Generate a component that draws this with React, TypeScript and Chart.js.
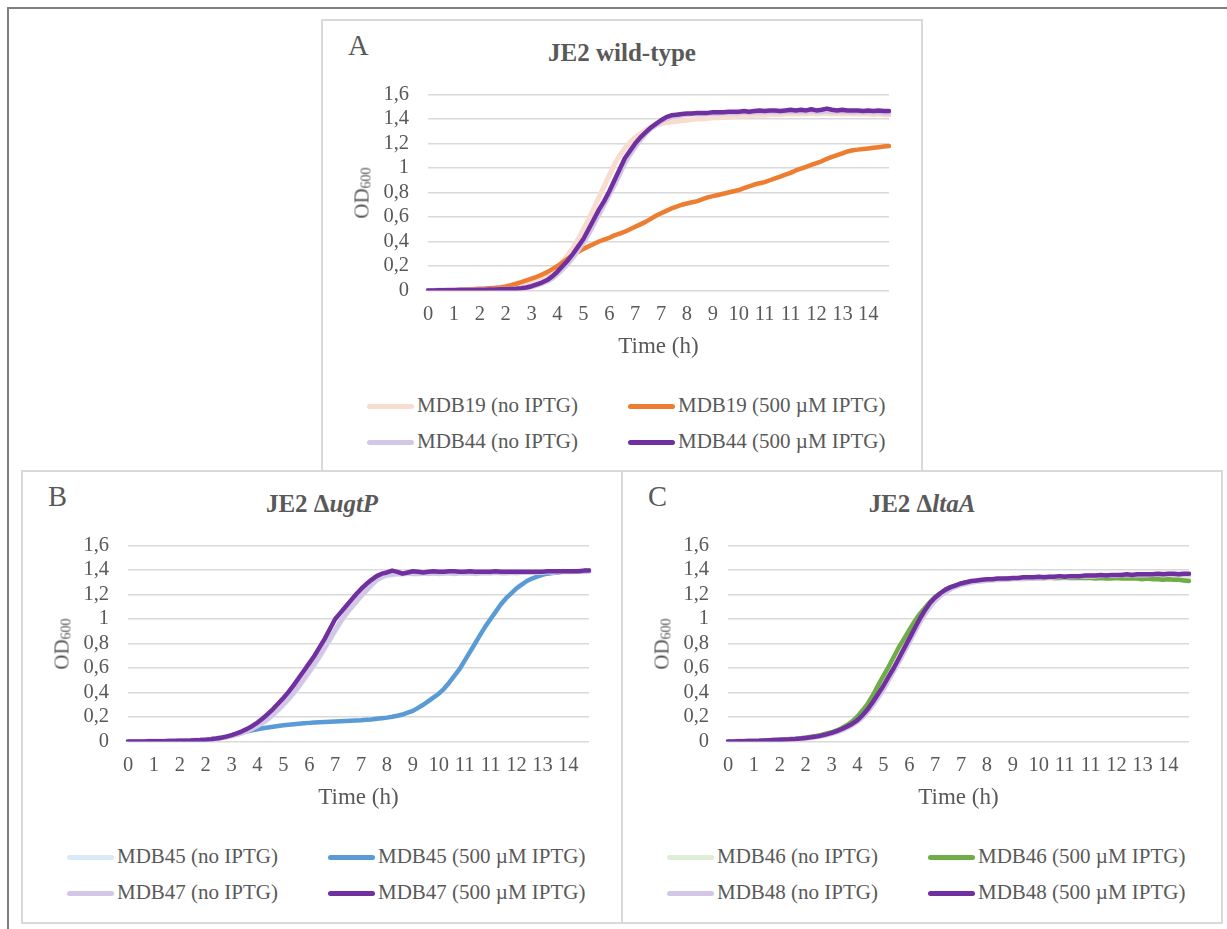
import React, { useEffect, useRef } from 'react';
import { Chart, registerables } from 'chart.js';

Chart.register(...registerables);

const FONT = "'Liberation Serif', 'Times New Roman', Times, serif";
const TEXT = '#595959';
const GRID = '#d9d9d9';
const PANEL_BORDER = '#d9d9d9';
const FRAME = '#7f7f7f';

// ---------- axis labels ----------
const X_TICK_LABELS = ['0', '1', '2', '2', '3', '4', '5', '6', '7', '7', '8', '9', '10', '11', '11', '12', '13', '14'];
const POINTS_PER_TICK = 5;
const N_POINTS = 90;
const SAMPLE_INDEX = Array.from({ length: N_POINTS }, (_, i) => String(i));
const Y_TICK_LABELS = ['0', '0,2', '0,4', '0,6', '0,8', '1', '1,2', '1,4', '1,6'];

// ---------- Panel A: JE2 wild-type ----------
const A_MDB19_NO = [
  0, 0.001, 0.002, 0.003, 0.004, 0.005, 0.006, 0.007, 0.008, 0.009,
  0.01, 0.011, 0.013, 0.015, 0.018, 0.021, 0.025, 0.03, 0.037, 0.046,
  0.058, 0.073, 0.092, 0.115, 0.145, 0.185, 0.235, 0.29, 0.35, 0.42,
  0.5, 0.58, 0.67, 0.76, 0.85, 0.94, 1.03, 1.1, 1.16, 1.21,
  1.25, 1.28, 1.31, 1.33, 1.35, 1.36, 1.37, 1.375, 1.38, 1.385,
  1.39, 1.395, 1.4, 1.4, 1.405, 1.41, 1.41, 1.415, 1.415, 1.42,
  1.42, 1.425, 1.425, 1.43, 1.43, 1.43, 1.435, 1.435, 1.435, 1.44,
  1.44, 1.44, 1.44, 1.44, 1.445, 1.44, 1.445, 1.445, 1.44, 1.445,
  1.44, 1.445, 1.44, 1.44, 1.44, 1.44, 1.435, 1.44, 1.435, 1.435,
];
const A_MDB19_500 = [
  0, 0.001, 0.002, 0.003, 0.004, 0.005, 0.006, 0.008, 0.01, 0.012,
  0.014, 0.016, 0.019, 0.022, 0.026, 0.033, 0.043, 0.055, 0.068, 0.082,
  0.097, 0.112, 0.13, 0.15, 0.175, 0.2, 0.23, 0.26, 0.29, 0.315,
  0.34, 0.36, 0.38, 0.4, 0.415, 0.43, 0.45, 0.465, 0.48, 0.5,
  0.52, 0.54, 0.56, 0.585, 0.61, 0.63, 0.65, 0.67, 0.685, 0.7,
  0.71, 0.72, 0.73, 0.745, 0.76, 0.77, 0.78, 0.79, 0.8, 0.81,
  0.82, 0.835, 0.85, 0.865, 0.875, 0.885, 0.9, 0.915, 0.93, 0.945,
  0.96, 0.98, 0.995, 1.01, 1.025, 1.04, 1.055, 1.075, 1.09, 1.105,
  1.12, 1.135, 1.145, 1.15, 1.155, 1.16, 1.165, 1.17, 1.175, 1.18,
];
const A_MDB44_NO = [
  0, 0.001, 0.002, 0.002, 0.003, 0.003, 0.004, 0.004, 0.005, 0.005,
  0.006, 0.007, 0.008, 0.009, 0.01, 0.011, 0.012, 0.014, 0.017, 0.022,
  0.03, 0.042, 0.057, 0.075, 0.1, 0.135, 0.175, 0.22, 0.27, 0.33,
  0.39, 0.46, 0.54, 0.62, 0.7, 0.78, 0.86, 0.95, 1.04, 1.11,
  1.17, 1.23, 1.28, 1.32, 1.35, 1.38, 1.4, 1.415, 1.425, 1.43,
  1.435, 1.44, 1.44, 1.44, 1.445, 1.445, 1.445, 1.45, 1.45, 1.45,
  1.45, 1.455, 1.45, 1.455, 1.455, 1.455, 1.46, 1.455, 1.455, 1.46,
  1.46, 1.46, 1.46, 1.46, 1.465, 1.46, 1.46, 1.465, 1.46, 1.46,
  1.46, 1.46, 1.455, 1.46, 1.455, 1.455, 1.455, 1.455, 1.45, 1.45,
];
const A_MDB44_500 = [
  0, 0.001, 0.002, 0.002, 0.003, 0.003, 0.004, 0.004, 0.005, 0.005,
  0.006, 0.007, 0.008, 0.009, 0.01, 0.011, 0.013, 0.015, 0.019, 0.025,
  0.035, 0.05, 0.065, 0.085, 0.115, 0.155, 0.2, 0.245, 0.3, 0.36,
  0.42, 0.5, 0.58, 0.66, 0.73, 0.81, 0.9, 0.99, 1.08, 1.14,
  1.2, 1.25, 1.29, 1.33, 1.36, 1.39, 1.415, 1.43, 1.435, 1.44,
  1.445, 1.445, 1.45, 1.45, 1.45, 1.455, 1.455, 1.455, 1.46, 1.46,
  1.46, 1.465, 1.46, 1.465, 1.47, 1.465, 1.47, 1.47, 1.465, 1.47,
  1.475, 1.47, 1.475, 1.47, 1.48, 1.47, 1.475, 1.485, 1.475, 1.47,
  1.475, 1.47, 1.47, 1.47, 1.465, 1.47, 1.465, 1.47, 1.465, 1.465,
];

// ---------- Panel B: JE2 ΔugtP ----------
const B_MDB45_NO = [
  0, 0, 0.001, 0.001, 0.002, 0.002, 0.003, 0.003, 0.004, 0.005,
  0.006, 0.007, 0.008, 0.01, 0.012, 0.015, 0.018, 0.023, 0.029, 0.036,
  0.045, 0.055, 0.068, 0.083, 0.101, 0.123, 0.15, 0.18, 0.215, 0.255,
  0.298, 0.343, 0.392, 0.447, 0.505, 0.565, 0.625, 0.69, 0.76, 0.83,
  0.9, 0.97, 1.03, 1.085, 1.135, 1.185, 1.23, 1.275, 1.315, 1.34,
  1.355, 1.36, 1.365, 1.365, 1.37, 1.37, 1.37, 1.37, 1.375, 1.37,
  1.375, 1.37, 1.375, 1.375, 1.375, 1.37, 1.375, 1.375, 1.375, 1.38,
  1.375, 1.38, 1.38, 1.375, 1.38, 1.38, 1.38, 1.385, 1.38, 1.385,
  1.385, 1.385, 1.385, 1.385, 1.39, 1.385, 1.39, 1.39, 1.39, 1.39,
];
const B_MDB45_500 = [
  0, 0, 0.001, 0.001, 0.002, 0.002, 0.003, 0.003, 0.004, 0.005,
  0.006, 0.007, 0.008, 0.01, 0.012, 0.015, 0.019, 0.024, 0.031, 0.04,
  0.05, 0.062, 0.073, 0.083, 0.092, 0.1, 0.108, 0.115, 0.121, 0.127,
  0.132, 0.137, 0.141, 0.145, 0.149, 0.152, 0.155, 0.158, 0.16, 0.162,
  0.164, 0.166, 0.168, 0.17, 0.172, 0.174, 0.177, 0.18, 0.185, 0.19,
  0.195, 0.202, 0.21, 0.22, 0.235, 0.25, 0.275, 0.3, 0.33, 0.36,
  0.39, 0.43, 0.48, 0.535, 0.59, 0.66, 0.73, 0.8, 0.87, 0.94,
  1.0, 1.06, 1.12, 1.17, 1.21, 1.25, 1.28, 1.31, 1.33, 1.345,
  1.36, 1.37, 1.375, 1.38, 1.385, 1.385, 1.385, 1.39, 1.39, 1.395,
];
const B_MDB47_NO = [
  0, 0, 0.001, 0.001, 0.002, 0.002, 0.003, 0.003, 0.004, 0.005,
  0.006, 0.007, 0.008, 0.01, 0.012, 0.015, 0.019, 0.024, 0.03, 0.037,
  0.046, 0.057, 0.07, 0.086, 0.105, 0.128, 0.155, 0.186, 0.222, 0.262,
  0.305, 0.35, 0.4, 0.455, 0.515, 0.575, 0.635, 0.7, 0.77, 0.84,
  0.91, 0.98, 1.04, 1.09, 1.14, 1.19, 1.235, 1.28, 1.32, 1.345,
  1.36, 1.365, 1.37, 1.37, 1.375, 1.37, 1.37, 1.375, 1.37, 1.375,
  1.37, 1.375, 1.375, 1.37, 1.375, 1.375, 1.375, 1.37, 1.375, 1.375,
  1.375, 1.38, 1.375, 1.375, 1.38, 1.375, 1.38, 1.38, 1.38, 1.38,
  1.38, 1.385, 1.38, 1.385, 1.385, 1.385, 1.385, 1.39, 1.39, 1.39,
];
const B_MDB47_500 = [
  0, 0, 0.001, 0.001, 0.002, 0.002, 0.003, 0.003, 0.004, 0.005,
  0.006, 0.007, 0.008, 0.01, 0.012, 0.015, 0.019, 0.024, 0.031, 0.04,
  0.052, 0.066, 0.083, 0.103, 0.127, 0.155, 0.188, 0.225, 0.265, 0.31,
  0.355, 0.405, 0.46, 0.52, 0.58, 0.64, 0.7, 0.77, 0.84, 0.92,
  1.0, 1.05, 1.1, 1.15, 1.2, 1.245, 1.285, 1.32, 1.35, 1.37,
  1.38, 1.395, 1.385, 1.37, 1.38, 1.39, 1.385, 1.38, 1.385, 1.39,
  1.385, 1.385, 1.39, 1.39, 1.385, 1.385, 1.39, 1.385, 1.385, 1.385,
  1.385, 1.39, 1.385, 1.385, 1.385, 1.385, 1.385, 1.385, 1.385, 1.385,
  1.385, 1.39, 1.39, 1.39, 1.39, 1.39, 1.39, 1.39, 1.395, 1.395,
];

// ---------- Panel C: JE2 ΔltaA ----------
const C_MDB46_NO = [
  0, 0.001, 0.002, 0.003, 0.004, 0.005, 0.006, 0.008, 0.01, 0.012,
  0.014, 0.016, 0.018, 0.021, 0.025, 0.029, 0.034, 0.04, 0.048, 0.058,
  0.07, 0.084, 0.1, 0.12, 0.145, 0.175, 0.215, 0.265, 0.32, 0.385,
  0.455, 0.53, 0.6, 0.68, 0.76, 0.84, 0.915, 0.99, 1.06, 1.12,
  1.165, 1.2, 1.23, 1.25, 1.265, 1.28, 1.29, 1.3, 1.305, 1.31,
  1.315, 1.315, 1.32, 1.32, 1.32, 1.325, 1.325, 1.325, 1.33, 1.33,
  1.33, 1.33, 1.335, 1.33, 1.335, 1.335, 1.335, 1.335, 1.34, 1.335,
  1.34, 1.34, 1.34, 1.34, 1.34, 1.34, 1.345, 1.34, 1.345, 1.34,
  1.345, 1.34, 1.34, 1.345, 1.34, 1.34, 1.34, 1.335, 1.34, 1.335,
];
const C_MDB46_500 = [
  0, 0.001, 0.002, 0.003, 0.004, 0.005, 0.006, 0.008, 0.01, 0.012,
  0.014, 0.017, 0.02, 0.023, 0.027, 0.032, 0.038, 0.045, 0.054, 0.065,
  0.075, 0.09, 0.11, 0.135, 0.165, 0.205, 0.255, 0.31, 0.38, 0.46,
  0.535, 0.61, 0.69, 0.77, 0.84, 0.91, 0.98, 1.04, 1.09, 1.14,
  1.18, 1.21, 1.24, 1.26, 1.275, 1.29, 1.3, 1.305, 1.31, 1.315,
  1.32, 1.32, 1.325, 1.325, 1.33, 1.33, 1.33, 1.335, 1.335, 1.335,
  1.335, 1.335, 1.34, 1.335, 1.335, 1.34, 1.335, 1.335, 1.335, 1.335,
  1.335, 1.33, 1.335, 1.33, 1.33, 1.335, 1.33, 1.33, 1.33, 1.33,
  1.325, 1.33, 1.325, 1.325, 1.32, 1.325, 1.32, 1.32, 1.315, 1.31,
];
const C_MDB48_NO = [
  0, 0.001, 0.002, 0.003, 0.004, 0.005, 0.006, 0.007, 0.009, 0.011,
  0.013, 0.015, 0.017, 0.02, 0.023, 0.027, 0.031, 0.037, 0.044, 0.053,
  0.064, 0.077, 0.093, 0.112, 0.135, 0.163, 0.2, 0.245, 0.3, 0.36,
  0.425, 0.5, 0.575, 0.65, 0.73, 0.81, 0.89, 0.97, 1.04, 1.1,
  1.15, 1.19, 1.22, 1.245, 1.265, 1.28, 1.29, 1.3, 1.305, 1.31,
  1.315, 1.32, 1.32, 1.325, 1.325, 1.33, 1.33, 1.33, 1.335, 1.335,
  1.335, 1.34, 1.34, 1.34, 1.345, 1.345, 1.345, 1.345, 1.35, 1.35,
  1.35, 1.35, 1.355, 1.355, 1.355, 1.355, 1.36, 1.36, 1.36, 1.36,
  1.36, 1.36, 1.365, 1.365, 1.365, 1.365, 1.365, 1.365, 1.365, 1.365,
];
const C_MDB48_500 = [
  0, 0.001, 0.002, 0.003, 0.004, 0.005, 0.006, 0.008, 0.01, 0.012,
  0.014, 0.016, 0.018, 0.021, 0.025, 0.029, 0.034, 0.04, 0.048, 0.058,
  0.07, 0.085, 0.102, 0.122, 0.145, 0.175, 0.215, 0.265, 0.325, 0.39,
  0.455, 0.53, 0.6, 0.68, 0.76, 0.84, 0.92, 1.0, 1.07, 1.13,
  1.175, 1.21, 1.24, 1.26, 1.275, 1.29, 1.3, 1.31, 1.315, 1.32,
  1.325, 1.325, 1.33, 1.33, 1.33, 1.335, 1.335, 1.34, 1.34, 1.34,
  1.345, 1.34, 1.345, 1.345, 1.35, 1.345, 1.35, 1.35, 1.35, 1.355,
  1.355, 1.355, 1.36, 1.355, 1.36, 1.36, 1.36, 1.365, 1.36, 1.365,
  1.365, 1.365, 1.365, 1.37, 1.365, 1.37, 1.37, 1.365, 1.37, 1.37,
];

// ---------- colours ----------
const C_ORANGE = '#ED7D31';
const C_ORANGE_LIGHT = '#F8DCCF';
const C_PURPLE = '#7030A0';
const C_PURPLE_LIGHT = '#D4C7E5';
const C_BLUE = '#5B9BD5';
const C_BLUE_LIGHT = '#DAE9F6';
const C_GREEN = '#70AD47';
const C_GREEN_LIGHT = '#DEEDD6';

type Series = { label: string; data: number[]; color: string; width: number };
type PanelDef = {
  letter: string;
  title: React.ReactNode;
  ox: number;
  oy: number;
  boxHeight: number;
  series: Series[];
};

const LIGHT_W = 5;
const DARK_W = 4.5;

const PANELS: PanelDef[] = [
  {
    letter: 'A',
    title: <span>JE2 wild-type</span>,
    ox: 322,
    oy: 20,
    boxHeight: 453,
    series: [
      { label: 'MDB19 (no IPTG)', data: A_MDB19_NO, color: C_ORANGE_LIGHT, width: LIGHT_W },
      { label: 'MDB19 (500 µM IPTG)', data: A_MDB19_500, color: C_ORANGE, width: DARK_W },
      { label: 'MDB44 (no IPTG)', data: A_MDB44_NO, color: C_PURPLE_LIGHT, width: LIGHT_W },
      { label: 'MDB44 (500 µM IPTG)', data: A_MDB44_500, color: C_PURPLE, width: DARK_W },
    ],
  },
  {
    letter: 'B',
    title: <span>JE2 Δ<i>ugtP</i></span>,
    ox: 22,
    oy: 471,
    boxHeight: 454,
    series: [
      { label: 'MDB45 (no IPTG)', data: B_MDB45_NO, color: C_BLUE_LIGHT, width: LIGHT_W },
      { label: 'MDB45 (500 µM IPTG)', data: B_MDB45_500, color: C_BLUE, width: DARK_W },
      { label: 'MDB47 (no IPTG)', data: B_MDB47_NO, color: C_PURPLE_LIGHT, width: LIGHT_W },
      { label: 'MDB47 (500 µM IPTG)', data: B_MDB47_500, color: C_PURPLE, width: DARK_W },
    ],
  },
  {
    letter: 'C',
    title: <span>JE2 Δ<i>ltaA</i></span>,
    ox: 622,
    oy: 471,
    boxHeight: 454,
    series: [
      { label: 'MDB46 (no IPTG)', data: C_MDB46_NO, color: C_GREEN_LIGHT, width: LIGHT_W },
      { label: 'MDB46 (500 µM IPTG)', data: C_MDB46_500, color: C_GREEN, width: DARK_W },
      { label: 'MDB48 (no IPTG)', data: C_MDB48_NO, color: C_PURPLE_LIGHT, width: LIGHT_W },
      { label: 'MDB48 (500 µM IPTG)', data: C_MDB48_500, color: C_PURPLE, width: DARK_W },
    ],
  },
];

// layout (relative to panel origin)
const CANVAS_L = 20;
const CANVAS_T = 60;
const CANVAS_W = 565;
const CANVAS_H = 290;
const Y_AXIS_W = 86;
const X_AXIS_H = 79.5;
const PAD_TOP = 14.5;
const PAD_RIGHT = 18;
const LEGEND_ROWS = [385.5, 422];
const LEGEND_COLS = [45, 306];
const SAMPLE_W = 47;

function Panel({ def }: { def: PanelDef }) {
  const ref = useRef<HTMLCanvasElement | null>(null);

  useEffect(() => {
    const canvas = ref.current;
    if (!canvas) return;
    const n = def.series.length;
    const chart = new Chart(canvas, {
      type: 'line',
      data: {
        labels: SAMPLE_INDEX,
        datasets: def.series.map((s, i) => ({
          label: s.label,
          data: s.data,
          borderColor: s.color,
          backgroundColor: s.color,
          borderWidth: s.width,
          pointRadius: 0,
          pointHoverRadius: 0,
          fill: false,
          tension: 0,
          borderCapStyle: 'round',
          borderJoinStyle: 'round',
          order: n - i,
        })),
      },
      options: {
        animation: false,
        responsive: false,
        maintainAspectRatio: false,
        devicePixelRatio: 1,
        events: [],
        layout: { padding: { top: PAD_TOP, right: PAD_RIGHT, left: 0, bottom: 0 } },
        plugins: {
          legend: { display: false },
          title: { display: false },
          tooltip: { enabled: false },
        },
        scales: {
          x: {
            type: 'category',
            offset: false,
            grid: { display: false, drawTicks: false },
            border: { display: false },
            ticks: {
              autoSkip: false,
              maxRotation: 0,
              minRotation: 0,
              padding: 12,
              color: TEXT,
              font: { family: FONT, size: 20.5 },
              callback: (_v: any, i: number) =>
                i % POINTS_PER_TICK === 0 ? X_TICK_LABELS[i / POINTS_PER_TICK] : null,
            },
            title: {
              display: true,
              text: 'Time (h)',
              color: TEXT,
              font: { family: FONT, size: 23 },
              padding: { top: 0, bottom: 9 },
            },
            afterFit: (s: any) => {
              s.height = X_AXIS_H;
              s.paddingLeft = 0;
              s.paddingRight = 0;
            },
          },
          y: {
            min: 0,
            max: 1.6,
            grid: { color: GRID, lineWidth: 1.5, drawTicks: false },
            border: { display: false },
            ticks: {
              stepSize: 0.2,
              autoSkip: false,
              padding: 19,
              color: TEXT,
              font: { family: FONT, size: 20.5 },
              callback: (v: any) => Y_TICK_LABELS[Math.round(Number(v) / 0.2)],
            },
            afterFit: (s: any) => {
              s.width = Y_AXIS_W;
              s.paddingTop = 0;
              s.paddingBottom = 0;
            },
          },
        },
      } as any,
    });
    return () => chart.destroy();
  }, [def]);

  const { ox, oy } = def;
  return (
    <>
      <div
        style={{
          position: 'absolute',
          left: ox - 1,
          top: oy - 1,
          width: 602,
          height: def.boxHeight,
          boxSizing: 'border-box',
          border: `2px solid ${PANEL_BORDER}`,
          background: '#fff',
        }}
      />
      <div
        style={{
          position: 'absolute',
          left: ox + 26,
          top: oy + 12,
          fontSize: 28.5,
          lineHeight: '28.5px',
          color: TEXT,
        }}
      >
        {def.letter}
      </div>
      <div
        style={{
          position: 'absolute',
          left: ox,
          top: oy + 20,
          width: 600,
          textAlign: 'center',
          fontSize: 25,
          lineHeight: '25px',
          fontWeight: 'bold',
          color: TEXT,
          whiteSpace: 'nowrap',
        }}
      >
        {def.title}
      </div>
      <canvas
        ref={ref}
        width={CANVAS_W}
        height={CANVAS_H}
        style={{
          position: 'absolute',
          left: ox + CANVAS_L,
          top: oy + CANVAS_T,
          width: CANVAS_W,
          height: CANVAS_H,
        }}
      />
      <div
        style={{
          position: 'absolute',
          left: ox + 41,
          top: oy + 172.5,
          transform: 'translate(-50%, -50%) rotate(-90deg)',
          fontSize: 21,
          lineHeight: '21px',
          color: TEXT,
          whiteSpace: 'nowrap',
        }}
      >
        OD<span style={{ fontSize: 14, position: 'relative', top: 2 }}>600</span>
      </div>
      {def.series.map((s, i) => {
        const col = i % 2;
        const row = Math.floor(i / 2);
        const cy = oy + LEGEND_ROWS[row];
        const lx = ox + LEGEND_COLS[col];
        return (
          <React.Fragment key={s.label}>
            <div
              style={{
                position: 'absolute',
                left: lx,
                top: cy - 2,
                width: SAMPLE_W,
                height: 5,
                borderRadius: 3,
                background: s.color,
              }}
            />
            <div
              style={{
                position: 'absolute',
                left: lx + SAMPLE_W + 3,
                top: cy - 11,
                fontSize: 21,
                lineHeight: '21px',
                color: TEXT,
                whiteSpace: 'nowrap',
              }}
            >
              {s.label}
            </div>
          </React.Fragment>
        );
      })}
    </>
  );
}

export default function App() {
  return (
    <div
      style={{
        position: 'fixed',
        left: 0,
        top: 0,
        width: '100vw',
        height: '100vh',
        overflow: 'hidden',
        background: '#fff',
        fontFamily: FONT,
      }}
    >
      <div
        style={{
          position: 'absolute',
          left: 7,
          top: 7,
          width: 1300,
          height: 1000,
          border: `2px solid ${FRAME}`,
        }}
      />
      {PANELS.map((p) => (
        <Panel key={p.letter} def={p} />
      ))}
    </div>
  );
}
